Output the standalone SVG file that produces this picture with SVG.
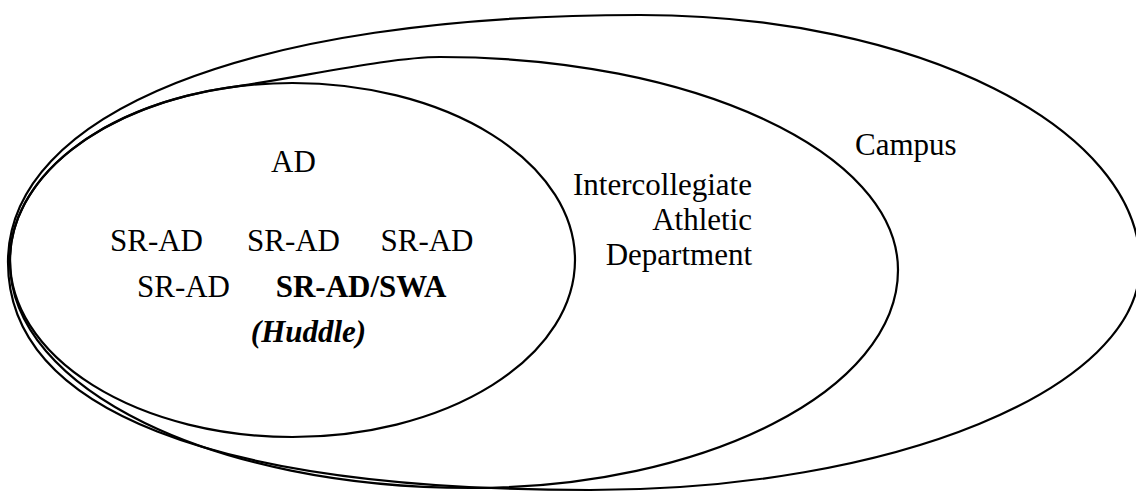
<svg xmlns="http://www.w3.org/2000/svg" width="1136" height="494" viewBox="0 0 1136 494">
<style>
.ring{fill:none;stroke:#000;stroke-width:2.2}
text{font-family:"Liberation Serif","Times New Roman",serif;font-size:31px;fill:#000}
.c{text-anchor:middle}
.b{font-weight:bold}
.bi{font-weight:bold;font-style:italic}
.e{text-anchor:end}
</style>
<rect width="1136" height="494" fill="#fff"/>
<g id="campus">
<path class="ring" d="M8,262 C8,114 245,15 640,15 C916,15 1140,127 1140,265 C1140,389 894,490 590,490 C212,490 8,410 8,262 Z"/>
<text x="855" y="155">Campus</text>
</g>
<g id="athletic-department">
<path class="ring" d="M10,262 A282.5,177 0 0 1 230,87.4 C300,77.5 390,57 440,57 C693,57 898,152 898,270 C898,390 706,488 470,488 C216,488 10,390 10,262 Z"/>
<text class="e" x="752" y="195">Intercollegiate</text>
<text class="e" x="752" y="230">Athletic</text>
<text class="e" x="752" y="265">Department</text>
</g>
<g id="huddle">
<ellipse class="ring" cx="292.5" cy="260" rx="282.5" ry="177"/>
<text class="c" x="293.5" y="172">AD</text>
<text class="c" x="156.5" y="251">SR-AD</text>
<text class="c" x="293.5" y="251">SR-AD</text>
<text class="c" x="427" y="251">SR-AD</text>
<text class="c" x="183.5" y="297">SR-AD</text>
<text class="c b" x="361" y="297">SR-AD/SWA</text>
<text class="c bi" x="308.5" y="342">(Huddle)</text>
</g>
<g id="connectors"/>
</svg>
